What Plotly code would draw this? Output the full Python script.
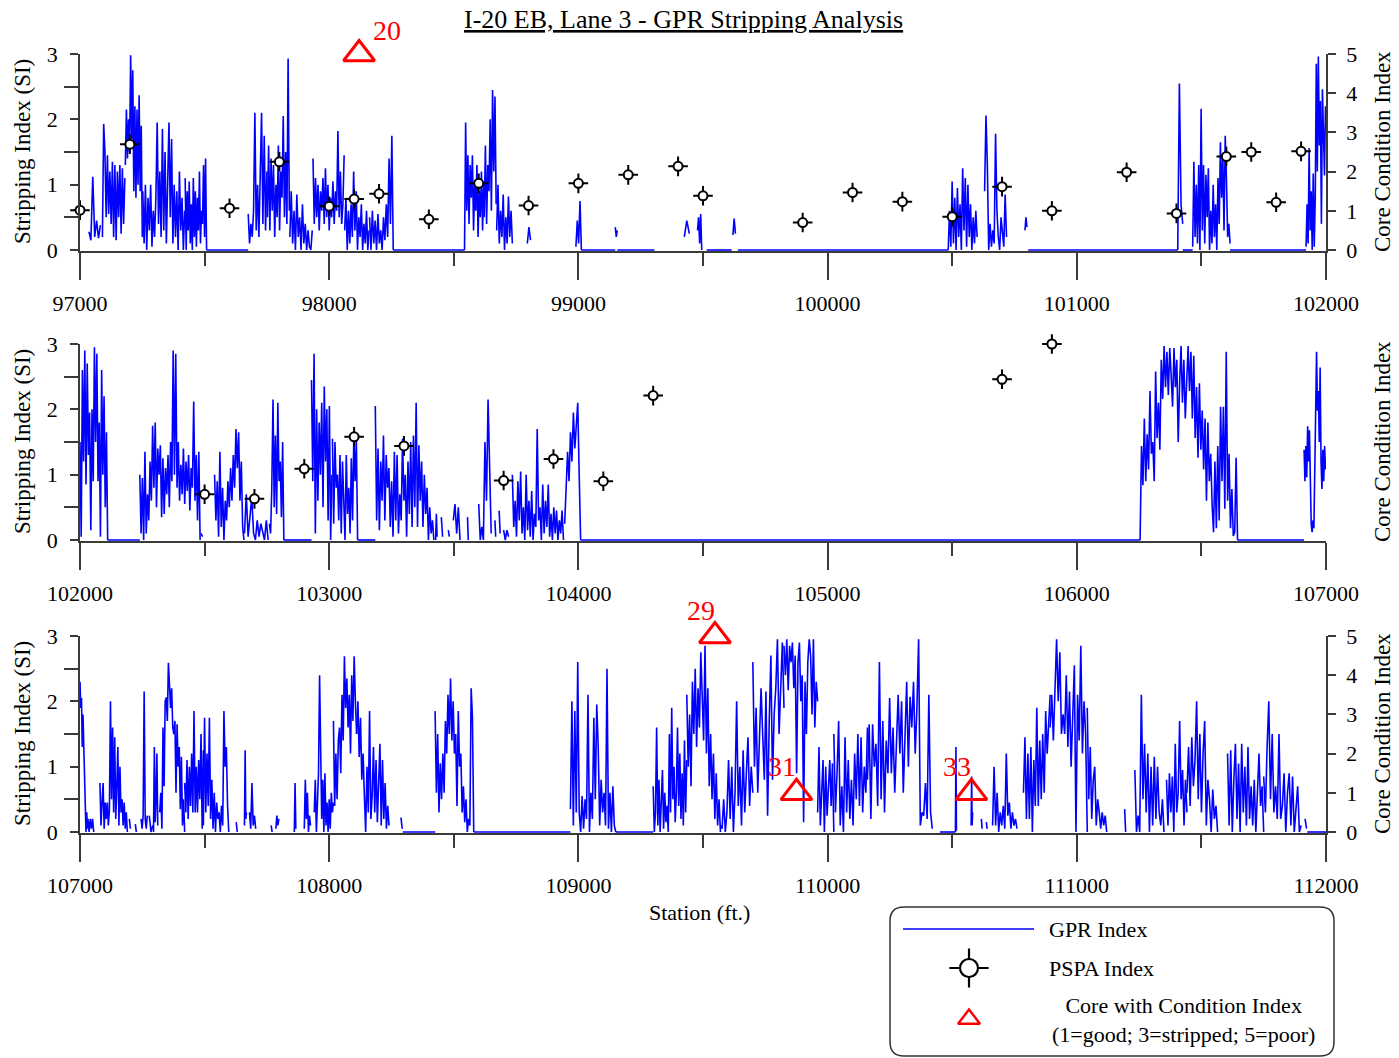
import plotly.graph_objects as go

# ---------------- data ----------------
PANEL_RANGES = [(97000, 102000), (102000, 107000), (107000, 112000)]

PSPA_P1_STATION = [97000, 97200, 97600, 97800, 98000, 98100, 98200, 98400, 98500, 98600,
                   98800, 99000, 99200, 99400, 99500, 99900, 100100, 100300, 100500, 100700,
                   100900, 101200, 101400, 101600, 101700, 101800, 101900]
PSPA_P1_VALUE = [0.61, 1.62, 0.64, 1.35, 0.67, 0.78, 0.86, 0.47, -0.17, 1.02,
                 0.68, 1.02, 1.15, 1.28, 0.83, 0.42, 0.88, 0.74, 0.51, 0.97,
                 0.60, 1.19, 0.56, 1.43, 1.50, 0.73, 1.51]
PSPA_P2_STATION = [102500, 102700, 102900, 103100, 103300, 103700, 103900, 104100, 104300,
                   105300, 105700, 105900]
PSPA_P2_VALUE = [0.70, 0.63, 1.09, 1.58, 1.44, 0.91, 1.24, 0.90, 2.21, 3.31, 2.46, 3.00]
PSPA_P3_STATION = []
PSPA_P3_VALUE = []

CORE_STATION = [98120, 109548, 109875, 110577]
CORE_INDEX = [5, 5, 1, 1]
CORE_LABEL = ["20", "29", "31", "33"]
CORE_PANEL = [0, 2, 2, 2]

# GPR stripping index: (start station, end station, readings spread evenly over the run)
GPR_P1 = [
    (97036, 97082, [0.28, 0.15, 1.12, 0.2, 0.45, 0.18, 0.38]),
    (97090, 97180, [0.2, 1.93, 1.5, 0.5, 1.45, 0.55, 1.2, 0.4, 1.35, 0.2, 1.3, 0.15, 1.2, 0.5, 1.3, 0.25, 1.25, 0.4, 1.1]),
    (97182, 97250, [1.3, 2.15, 1.4, 2.0, 1.5, 2.98, 1.7, 2.75, 0.9, 2.2, 0.8, 2.15, 1.0, 2.37, 0.9, 1.9, 0.2]),
    (97252, 97420, [0.9, 0.1, 1.0, 0.0, 0.8, 0.3, 1.0, 0.05, 0.6, 0.2, 0.8, 1.95, 0.4, 1.2, 0.2, 1.85, 0.3, 1.5, 0.1, 1.1,
                    1.95, 0.5, 1.7, 0.1, 1.0, 0.2, 0.9, 0.0, 1.2, 0.3, 0.8, 0.0, 0.6]),
    (97422, 97508, [1.1, 0.0, 0.9, 0.3, 1.05, 0.1, 0.7, 0.0, 1.1, 0.2, 0.9, 0.05, 0.8, 0.3, 1.2, 0.1, 0.6, 0.4, 1.3, 0.2, 1.4, 0.0]),
    (97508, 97675, [0.0, 0.0]),
    (97675, 97750, [0.55, 0.1, 0.4, 0.2, 0.6, 2.1, 0.3, 1.0, 0.2, 1.2, 2.1, 0.4, 1.75, 0.3, 1.2]),
    (97752, 97840, [0.5, 1.6, 0.3, 1.4, 0.6, 1.3, 0.2, 1.0, 0.5, 1.6, 0.3, 1.2, 0.8, 2.05, 0.5, 1.5, 0.4, 2.93, 0.6]),
    (97842, 97932, [0.2, 0.9, 0.1, 0.6, 0.0, 0.85, 0.2, 0.5, 0.0, 0.7, 0.1, 0.4, 0.0, 0.3, 0.05, 0.0, 0.3]),
    (97935, 98060, [1.4, 0.4, 1.1, 0.5, 1.0, 0.3, 0.9, 0.6, 1.1, 0.4, 1.25, 0.5, 1.0, 0.3, 0.8, 0.5, 1.05, 0.4, 0.9, 0.6,
                    1.82, 0.5, 1.2, 0.4, 0.7, 1.45]),
    (98062, 98160, [0.3, 0.8, 0.0, 0.6, 0.1, 0.7, 0.2, 1.2, 0.3, 0.9, 0.0, 0.5, 0.2, 0.7, 0.0, 0.4, 0.1, 0.6, 0.0, 0.3]),
    (98162, 98257, [0.5, 0.0, 0.6, 0.1, 0.45, 0.0, 0.55, 0.1, 0.3, 0.0, 0.5, 0.15, 0.7, 0.2, 1.4, 0.4, 1.75, 0.0]),
    (98257, 98543, [0.0, 0.0]),
    (98543, 98620, [0.0, 1.95, 0.6, 1.45, 0.4, 1.3, 0.8, 1.45, 0.3, 1.0, 0.6, 1.3, 0.2, 0.9, 0.5, 1.2, 0.3, 1.0]),
    (98622, 98670, [0.5, 1.6, 0.4, 1.3, 0.9, 2.0, 0.6, 2.45, 1.2, 2.35, 0.7]),
    (98672, 98735, [0.3, 1.0, 0.1, 0.6, 0.2, 0.85, 0.0, 0.5, 0.1, 0.82, 0.2, 0.6, 0.1]),
    (98795, 98808, [0.1, 0.35, 0.15]),
    (98990, 99012, [0.05, 0.45, 0.1, 0.75, 0.0]),
    (99012, 99148, [0.0, 0.0]),
    (99148, 99156, [0.35, 0.2, 0.3]),
    (99156, 99305, [0.0, 0.0]),
    (99425, 99445, [0.2, 0.45, 0.25]),
    (99478, 99495, [0.3, 0.5, 0.1, 0.55, 0.0]),
    (99515, 99615, [0.0, 0.0]),
    (99620, 99630, [0.23, 0.48, 0.25]),
    (99640, 100484, [0.0, 0.0]),
    (100484, 100600, [0.0, 0.6, 0.05, 1.05, 0.1, 0.8, 0.0, 0.95, 0.2, 0.7, 0.0, 1.25, 0.3, 1.1, 0.05, 1.0, 0.2, 0.7, 0.0, 0.5,
                      0.1, 0.6, 0.2]),
    (100630, 100718, [0.9, 2.06, 1.3, 0.0, 0.4, 0.05, 0.3, 0.1, 1.78, 0.6, 0.2, 0.0, 0.5, 0.3, 0.05, 0.85, 0.2]),
    (100792, 100800, [0.3, 0.5, 0.35]),
    (100805, 101405, [0.0, 0.0]),
    (101405, 101425, [0.0, 2.55, 0.7, 0.4]),
    (101425, 101465, [0.0, 0.0]),
    (101465, 101615, [0.05, 1.35, 0.2, 1.0, 0.1, 1.3, 0.0, 2.16, 0.3, 1.3, 0.1, 1.15, 0.5, 1.25, 0.0, 0.6, 0.1, 1.0, 0.2, 0.7,
                      0.0, 1.1, 0.4, 1.65, 0.8, 1.45, 0.3, 1.75, 1.1, 0.2, 0.4, 0.1]),
    (101615, 101920, [0.0, 0.0]),
    (101920, 101998, [0.05, 0.7, 0.1, 1.56, 0.3, 0.9, 0.0, 1.17, 0.05, 0.8, 2.85, 1.2, 2.96, 1.6, 2.28, 0.4, 2.46, 1.6, 1.14, 2.2]),
]

GPR_P2 = [
    (102000, 102111, [1.5, 0.05, 2.6, 1.2, 2.9, 0.85, 2.7, 1.3, 1.95, 0.15, 2.0, 0.9, 2.95, 1.5, 2.85, 0.9, 1.8, 0.05, 2.6, 1.0,
                      2.2, 0.5, 1.65, 0.0]),
    (102111, 102240, [0.0, 0.0]),
    (102240, 102482, [1.0, 0.1, 0.95, 0.0, 1.35, 0.1, 0.7, 0.3, 1.2, 0.6, 1.75, 0.8, 1.8, 0.5, 1.4, 1.0, 1.45, 0.35, 1.25, 0.4,
                      1.1, 0.7, 1.3, 0.5, 1.5, 0.9, 2.9, 1.0, 2.85, 0.8, 1.5, 0.6, 1.15, 0.7, 1.4, 0.55, 1.2, 0.75, 1.3, 0.45,
                      1.1, 0.8, 2.12, 0.6, 1.3, 0.3, 1.35, 0.0]),
    (102485, 102492, [0.1, 0.05]),
    (102540, 102658, [1.0, 0.3, 0.9, 0.05, 1.35, 0.2, 0.8, 0.0, 0.6, 0.3, 0.9, 0.5, 1.1, 0.6, 1.3, 0.8, 1.7, 1.1, 1.65, 0.6,
                      1.2, 0.2, 0.0]),
    (102660, 102755, [0.1, 0.7, 0.05, 0.3, 0.65, 0.1, 0.0, 0.3, 0.05, 0.25, 0.1, 0.0, 0.3, 0.0]),
    (102760, 102818, [0.25, 0.1, 0.8, 2.15, 0.5, 1.6, 0.4, 2.1, 0.9, 1.2, 0.35, 1.5, 0.0]),
    (102818, 102929, [0.0, 0.0]),
    (102929, 103011, [2.45, 0.9, 2.85, 0.1, 2.0, 0.6, 1.8, 1.0, 2.1, 0.5, 2.35, 1.2, 2.0, 0.3, 2.05, 0.0, 1.0]),
    (103013, 103114, [1.55, 0.25, 1.5, 0.8, 1.0, 0.3, 1.3, 0.1, 1.2, 0.5, 0.0, 1.3, 0.4, 0.8, 0.1, 1.25, 0.3, 1.6, 0.9, 1.55, 0.0]),
    (103114, 103185, [0.0, 0.0]),
    (103185, 103420, [2.05, 0.3, 1.4, 0.15, 1.2, 0.6, 1.6, 0.3, 1.3, 0.8, 1.1, 0.2, 0.9, 0.05, 1.35, 0.3, 1.3, 0.1, 0.7, 0.3,
                      1.55, 0.6, 1.0, 0.05, 1.2, 0.4, 1.5, 0.2, 1.6, 0.5, 2.1, 0.2, 1.45, 0.6, 1.2, 0.2, 1.0, 0.4, 0.8, 0.0,
                      0.5, 0.1, 0.3, 0.0]),
    (103427, 103433, [0.0, 0.4, 0.05]),
    (103450, 103455, [0.35, 0.05]),
    (103478, 103482, [0.15, 0.05]),
    (103498, 103525, [0.3, 0.55, 0.1, 0.5, 0.0]),
    (103555, 103558, [0.35, 0.0]),
    (103600, 103650, [0.55, 0.0, 0.2, 0.0, 1.5, 0.6, 2.15, 0.85, 0.1]),
    (103665, 103668, [0.3, 0.05]),
    (103682, 103686, [0.45, 0.1]),
    (103700, 103720, [0.15, 0.0, 0.15, 0.05]),
    (103735, 103940, [1.0, 0.2, 0.6, 0.05, 0.9, 0.3, 1.05, 0.1, 0.5, 0.0, 1.0, 0.15, 0.6, 0.05, 0.75, 0.0, 0.4, 0.2, 1.7, 0.3,
                      0.5, 0.0, 0.85, 0.1, 0.6, 0.2, 0.85, 0.05, 0.4, 0.0, 0.5, 0.1, 0.45, 0.0, 0.3, 0.1, 0.45, 0.0]),
    (103945, 104009, [0.25, 0.8, 1.35, 0.9, 1.65, 1.2, 1.95, 1.4, 1.8, 2.1, 1.0, 0.0]),
    (104009, 106254, [0.0, 0.0]),
    (106254, 106645, [0.0, 1.44, 0.84, 1.86, 0.9, 1.62, 1.08, 2.28, 1.32, 1.5, 0.9, 2.58, 1.56, 2.1, 1.38, 2.76, 2.16, 2.97,
                      2.34, 2.88, 2.22, 2.94, 2.52, 2.04, 2.94, 2.34, 2.76, 1.5, 2.4, 2.97, 2.1, 2.76, 1.86, 2.46, 2.97, 2.28,
                      2.88, 1.86, 2.82, 1.56, 2.34, 1.26, 2.4, 1.38, 1.98, 1.08, 1.86, 0.6, 1.8, 0.9, 1.32, 0.54, 0.12, 1.2,
                      0.18, 1.44, 0.3, 2.04, 0.9, 2.04, 0.48, 2.88, 0.6, 1.32, 0.18, 0.78, 0.06, 0.12, 1.26, 0.0]),
    (106645, 106912, [0.0, 0.0]),
    (106912, 106998, [1.38, 0.9, 1.44, 0.96, 1.74, 1.2, 1.68, 0.6, 0.24, 0.12, 0.3, 0.18, 1.2, 2.1, 2.88, 1.98, 2.28, 1.5,
                      2.64, 1.2, 0.78, 1.38, 0.9, 1.44, 1.08]),
]

GPR_P3 = [
    (107000, 107030, [2.3, 1.9, 2.05, 1.3, 1.8, 1.3, 1.2, 0.4, 0.0, 0.3, 0.05]),
    (107032, 107055, [0.2, 0.0, 0.2, 0.05, 0.2, 0.0]),
    (107080, 107190, [0.75, 0.1, 0.45, 0.75, 0.05, 0.45, 0.2, 0.45, 0.1, 0.35, 2.0, 0.5, 1.6, 0.3, 1.45, 0.2, 0.7, 1.3, 0.1, 1.0,
                      0.3, 0.5, 0.1, 0.45, 0.05, 0.3, 0.0]),
    (107198, 107202, [0.2, 0.05]),
    (107222, 107226, [0.12, 0.0]),
    (107245, 107270, [0.2, 0.05, 0.25, 2.15, 0.2, 0.05, 0.25]),
    (107278, 107292, [0.25, 0.0, 0.1]),
    (107295, 107312, [0.0, 1.3, 0.15, 0.5, 1.2, 0.1]),
    (107320, 107420, [0.3, 0.6, 0.05, 1.6, 0.7, 2.0, 2.06, 1.7, 2.59, 2.2, 1.9, 2.2, 1.6, 1.5, 1.7, 0.6, 1.65, 1.0, 1.3, 0.35,
                      1.15, 0.1, 0.5, 0.0]),
    (107420, 107495, [0.75, 0.3, 1.1, 0.2, 1.0, 0.4, 1.2, 0.3, 1.85, 0.3, 1.0, 0.3, 1.1, 0.5, 1.5, 0.05, 1.25]),
    (107495, 107597, [0.1, 1.75, 0.3, 1.2, 0.4, 1.75, 0.2, 0.8, 0.05, 0.6, 0.0, 0.45, 0.2, 0.3, 0.0, 0.4, 0.1, 1.85, 1.0, 1.3,
                      0.4, 0.0]),
    (107627, 107631, [0.15, 0.0]),
    (107660, 107668, [0.1, 1.25, 0.2, 0.3]),
    (107680, 107705, [0.3, 0.05, 0.75, 0.1, 0.25, 0.05]),
    (107767, 107771, [0.1, 0.0]),
    (107786, 107798, [0.05, 0.25, 0.1, 0.2]),
    (107860, 107866, [0.0, 0.75, 0.05]),
    (107900, 107925, [0.05, 0.8, 0.2, 0.6, 0.0, 0.25, 0.1]),
    (107940, 108017, [0.3, 0.8, 0.0, 0.5, 0.9, 2.4, 1.3, 0.2, 0.8, 0.0, 0.9, 0.1, 0.45, 0.0, 0.5, 0.05, 0.6, 0.3, 0.45]),
    (108017, 108110, [1.7, 0.4, 1.2, 0.5, 1.4, 1.6, 0.9, 2.1, 1.4, 2.69, 1.9, 2.35, 1.6, 2.1, 1.2, 2.4, 1.7, 2.69, 2.0, 1.5]),
    (108110, 108240, [1.5, 2.0, 1.15, 1.75, 0.8, 1.2, 0.55, 0.0, 1.0, 0.3, 1.85, 0.2, 0.55, 1.3, 0.3, 1.1, 0.15, 0.8, 1.35, 0.1,
                      1.1, 0.2, 0.75, 0.05, 0.4, 0.1]),
    (108288, 108293, [0.22, 0.05]),
    (108295, 108425, [0.0, 0.0]),
    (108425, 108580, [1.85, 0.6, 1.5, 0.3, 1.05, 0.5, 1.2, 0.6, 1.7, 1.2, 2.1, 1.5, 2.35, 1.4, 2.0, 1.2, 1.5, 0.4, 1.85, 1.0,
                      1.2, 0.3, 0.7, 0.15, 0.5, 0.0, 0.2, 0.1, 2.2, 1.75, 0.0]),
    (108580, 108968, [0.0, 0.0]),
    (108968, 109150, [0.35, 2.0, 0.1, 1.85, 0.3, 2.6, 0.3, 0.0, 0.55, 0.05, 0.5, 0.2, 2.1, 0.0, 0.6, 0.2, 1.75, 0.5, 1.95, 1.3,
                      0.1, 0.8, 0.3, 0.6, 0.1, 2.5, 0.05, 0.6, 0.0, 0.7, 0.1, 0.0]),
    (109150, 109300, [0.0, 0.0]),
    (109300, 109435, [0.7, 0.0, 0.3, 1.6, 0.1, 0.8, 0.0, 0.5, 0.95, 0.05, 0.6, 0.15, 0.4, 0.0, 1.5, 0.3, 1.9, 0.5, 1.0, 0.15,
                      0.6, 1.6, 0.4, 1.2, 0.2, 0.9, 0.1, 1.4, 0.3, 1.1]),
    (109435, 109570, [2.1, 1.0, 1.8, 0.7, 2.3, 1.5, 2.5, 1.3, 2.2, 1.6, 2.75, 2.0, 1.4, 2.85, 1.2, 2.2, 0.7, 1.5, 0.5, 1.2,
                      0.2, 0.9, 0.1, 0.5, 0.0]),
    (109570, 109700, [0.1, 0.05, 0.5, 0.0, 0.3, 1.1, 0.2, 1.0, 0.0, 0.6, 2.0, 0.4, 1.0, 0.1, 1.25, 0.3, 0.9, 1.45, 0.4, 1.0, 0.6]),
    (109700, 109825, [2.6, 1.0, 1.9, 0.6, 1.4, 2.2, 1.5, 0.8, 2.15, 0.25, 1.7, 2.7, 0.8, 1.8, 2.2, 2.95, 1.5, 2.4, 2.9, 1.9]),
    (109825, 109960, [2.85, 2.4, 2.95, 2.17, 2.85, 2.6, 2.9, 2.2, 2.7, 0.9, 2.6, 2.9, 2.0, 2.4, 0.15, 2.3, 1.5, 2.6, 2.95, 2.7,
                      1.8, 2.95, 1.6, 2.3, 2.0]),
    (109960, 110025, [0.3, 1.3, 0.1, 0.6, 1.1, 0.0, 1.0, 0.25, 0.7, 1.1, 0.4, 1.05, 0.0]),
    (110025, 110160, [1.5, 0.3, 0.9, 1.7, 0.1, 0.7, 0.0, 1.45, 0.3, 1.1, 0.2, 0.8, 0.1, 1.2, 0.5, 1.5, 0.4, 1.45, 0.3, 1.0,
                      0.6, 1.6]),
    (110160, 110420, [0.8, 1.65, 0.2, 1.65, 1.0, 1.35, 0.4, 2.6, 0.5, 1.7, 0.3, 1.4, 0.9, 2.05, 0.9, 1.6, 0.6, 1.5, 2.1, 1.2,
                      2.0, 0.6, 1.4, 2.3, 1.0, 2.07, 1.6, 2.3, 1.2, 1.9, 2.95, 0.1, 0.3, 0.25, 0.75, 0.2, 2.1, 0.3, 0.05]),
    (110451, 110513, [0.0, 0.0]),
    (110513, 110517, [0.0, 1.3, 0.02]),
    (110576, 110582, [0.1, 0.85, 0.1, 0.3]),
    (110617, 110620, [0.2, 0.05]),
    (110637, 110640, [0.15, 0.05]),
    (110662, 110760, [0.1, 1.0, 0.1, 0.6, 0.0, 0.3, 0.1, 0.4, 0.05, 1.2, 0.25, 0.45, 0.05, 0.3, 0.1, 0.2, 0.05]),
    (110786, 110893, [0.6, 1.45, 0.2, 1.2, 0.2, 1.3, 0.0, 1.1, 0.4, 1.9, 0.4, 1.4, 0.5, 1.5, 0.6, 1.85, 1.2, 1.6, 2.1]),
    (110893, 111042, [1.6, 2.1, 1.4, 2.2, 2.95, 2.0, 2.75, 1.5, 1.8, 1.5, 2.4, 1.3, 2.15, 1.0, 1.8, 2.55, 0.0, 2.1, 1.4, 2.85,
                      1.2, 2.0, 1.5, 0.0]),
    (111042, 111120, [1.9, 0.5, 1.3, 0.2, 0.8, 1.0, 0.1, 0.5, 0.3, 0.05, 0.3, 0.1, 0.25, 0.0]),
    (111192, 111196, [0.35, 0.0]),
    (111233, 111350, [0.95, 0.0, 0.25, 0.0, 2.1, 0.5, 1.35, 0.3, 1.2, 0.0, 1.0, 0.1, 1.15, 0.2, 1.0, 0.3, 0.1, 0.5, 0.0]),
    (111360, 111442, [0.8, 0.1, 0.9, 0.3, 0.85, 0.0, 1.35, 0.3, 0.6, 1.7, 0.5, 0.95, 0.1, 0.8, 0.3]),
    (111442, 111565, [0.6, 1.3, 0.4, 1.45, 0.7, 1.1, 2.0, 0.5, 1.5, 0.3, 1.2, 1.7, 0.1, 0.8, 0.5, 0.0, 0.65, 0.2, 0.4, 0.0]),
    (111605, 111750, [1.2, 0.1, 1.25, 0.0, 0.8, 1.35, 0.2, 1.05, 0.0, 1.35, 0.3, 1.0, 0.1, 1.3, 0.2, 0.7, 0.1, 0.8, 0.0, 0.5,
                      1.2, 0.4, 0.7, 0.0]),
    (111750, 111900, [0.85, 0.3, 1.3, 2.0, 0.5, 1.5, 0.3, 0.7, 0.2, 1.5, 0.2, 0.4, 0.9, 0.0, 0.6, 0.9, 0.1, 0.85, 0.0, 0.4,
                      0.7, 0.0, 0.1]),
    (111916, 111922, [0.2, 0.05]),
    (111925, 112000, [0.0, 0.0]),
]

GPR_PANELS = [GPR_P1, GPR_P2, GPR_P3]
PSPA_PANELS = [(PSPA_P1_STATION, PSPA_P1_VALUE), (PSPA_P2_STATION, PSPA_P2_VALUE), (PSPA_P3_STATION, PSPA_P3_VALUE)]

# ---------------- layout constants ----------------
W, H = 1399, 1058
ML, MR = 80, 73
PW = W - ML - MR
FONT = "Liberation Serif, Times New Roman, serif"
AX = "#3a3a3a"
TOPS = [54, 344, 636]
BOTS = [250, 540, 832]
LO = 0.015


def fy(p):
    return 1 - p / H


def fx(p):
    return (p - ML) / PW


def expand(segments):
    xs, ys = [], []
    for start, end, vals in segments:
        n = len(vals)
        for i, v in enumerate(vals):
            xs.append(start + (end - start) * i / (n - 1))
            ys.append(v)
        xs.append(None)
        ys.append(None)
    return xs, ys


fig = go.Figure()
layout = dict(
    width=W, height=H,
    margin=dict(l=ML, r=MR, t=0, b=0, autoexpand=False),
    paper_bgcolor="white", plot_bgcolor="rgba(0,0,0,0)",
    showlegend=False, hovermode=False,
    font=dict(family=FONT, size=22, color="black"),
)
annotations = []
shapes = []

for k in range(3):
    xa = "xaxis" if k == 0 else f"xaxis{k + 1}"
    xref = "x" if k == 0 else f"x{k + 1}"
    yl_id, yr_id = 2 * k + 1, 2 * k + 2
    yl = "yaxis" if yl_id == 1 else f"yaxis{yl_id}"
    ylref = "y" if yl_id == 1 else f"y{yl_id}"
    yr = f"yaxis{yr_id}"
    yrref = f"y{yr_id}"
    scale = (BOTS[k] - TOPS[k]) / 3.0
    dom = [fy(BOTS[k] + LO * scale), fy(TOPS[k])]

    layout[xa] = dict(
        domain=[0, 1], range=list(PANEL_RANGES[k]), anchor=ylref,
        showline=True, linecolor=AX, linewidth=1.5, mirror=False,
        ticks="outside", ticklen=27, tickwidth=1.5, tickcolor=AX,
        tick0=0, dtick=1000, tickformat="d",
        minor=dict(ticks="outside", ticklen=13, tickwidth=1.5, tickcolor=AX, tick0=0, dtick=500, showgrid=False),
        showgrid=False, zeroline=False, tickfont=dict(size=22, family=FONT, color="black"),
        ticklabelstandoff=5,
    )
    layout[yl] = dict(
        domain=dom, range=[-LO, 3], anchor=xref, side="left",
        showline=True, linecolor=AX, linewidth=1.5,
        ticks="outside", ticklen=8, tickwidth=1.5, tickcolor=AX, tick0=0, dtick=1,
        minor=dict(ticks="outside", ticklen=14, tickwidth=1.5, tickcolor=AX, tick0=0, dtick=0.5, showgrid=False),
        showgrid=False, zeroline=False, tickfont=dict(size=22, family=FONT, color="black"),
        ticklabelstandoff=8,
    )
    layout[yr] = dict(
        range=[-LO * 5 / 3, 5], anchor=xref, overlaying=ylref, side="right",
        showline=True, linecolor=AX, linewidth=1.5,
        ticks="outside", ticklen=8, tickwidth=1.5, tickcolor=AX, tick0=0, dtick=1,
        showgrid=False, zeroline=False, tickfont=dict(size=22, family=FONT, color="black"),
        ticklabelstandoff=6,
    )

    gx, gy = expand(GPR_PANELS[k])
    fig.add_trace(go.Scatter(x=gx, y=gy, mode="lines", line=dict(color="#0000FF", width=1.6),
                             connectgaps=False, xaxis=xref, yaxis=ylref, hoverinfo="skip"))

    st, val = PSPA_PANELS[k]
    if st:
        fig.add_trace(go.Scatter(x=st, y=val, mode="markers", cliponaxis=False, xaxis=xref, yaxis=ylref,
                                 marker=dict(symbol="cross-thin-open", size=14, color="black",
                                             line=dict(color="black", width=2))))
        fig.add_trace(go.Scatter(x=st, y=val, mode="markers", cliponaxis=False, xaxis=xref, yaxis=ylref,
                                 marker=dict(symbol="circle", size=9, color="white",
                                             line=dict(color="black", width=2))))

    cs = [s for s, p in zip(CORE_STATION, CORE_PANEL) if p == k]
    ci = [v for v, p in zip(CORE_INDEX, CORE_PANEL) if p == k]
    cl = [l for l, p in zip(CORE_LABEL, CORE_PANEL) if p == k]
    if cs:
        fig.add_trace(go.Scatter(x=cs, y=ci, mode="markers", cliponaxis=False, xaxis=xref, yaxis=yrref,
                                 marker=dict(symbol="triangle-up-open", size=27, color="red",
                                             line=dict(color="red", width=3))))
        for s, v, l in zip(cs, ci, cl):
            right = (l == "20")
            annotations.append(dict(x=s, y=v, xref=xref, yref=yrref, text=l, showarrow=False,
                                    xshift=28 if right else -14, yshift=24 if right else 26,
                                    font=dict(size=28, color="red", family=FONT)))

    mid = fy((TOPS[k] + BOTS[k]) / 2)
    annotations.append(dict(x=fx(22), y=mid, xref="paper", yref="paper", text="Stripping Index (SI)",
                            textangle=-90, showarrow=False, xanchor="center", yanchor="middle",
                            font=dict(size=23, family=FONT, color="black")))
    annotations.append(dict(x=fx(1382), y=mid, xref="paper", yref="paper", text="Core Condition Index",
                            textangle=-90, showarrow=False, xanchor="center", yanchor="middle",
                            font=dict(size=23, family=FONT, color="black")))

# title and x title
annotations.append(dict(x=fx(683.5), y=fy(20), xref="paper", yref="paper",
                        text="<u>I-20 EB, Lane 3 - GPR Stripping Analysis</u>", showarrow=False,
                        xanchor="center", yanchor="middle", font=dict(size=26, family=FONT, color="black")))
annotations.append(dict(x=fx(699), y=fy(912), xref="paper", yref="paper", text="Station (ft.)",
                        showarrow=False, xanchor="center", yanchor="middle",
                        font=dict(size=22, family=FONT, color="black")))

# ---------------- legend box ----------------
layout["xaxis4"] = dict(domain=[0, 1], range=[ML, ML + PW], visible=False, anchor="y7", fixedrange=True)
layout["yaxis7"] = dict(domain=[0, 1], range=[H, 0], visible=False, anchor="x4", fixedrange=True)

x0, x1, y0, y1, r = 890, 1334, 907, 1056, 14


def P(x, y):
    return f"{fx(x):.5f},{fy(y):.5f}"


path = (f"M{P(x0 + r, y0)} L{P(x1 - r, y0)} Q{P(x1, y0)} {P(x1, y0 + r)} L{P(x1, y1 - r)} "
        f"Q{P(x1, y1)} {P(x1 - r, y1)} L{P(x0 + r, y1)} Q{P(x0, y1)} {P(x0, y1 - r)} "
        f"L{P(x0, y0 + r)} Q{P(x0, y0)} {P(x0 + r, y0)} Z")
shapes.append(dict(type="path", path=path, xref="paper", yref="paper", line=dict(color="#333333", width=1.5),
                   fillcolor="white", layer="below"))
shapes.append(dict(type="line", x0=fx(903), x1=fx(1034), y0=fy(929), y1=fy(929), xref="paper", yref="paper",
                   line=dict(color="#0000FF", width=1.3)))

fig.add_trace(go.Scatter(x=[969], y=[968], mode="markers", cliponaxis=False, xaxis="x4", yaxis="y7",
                         marker=dict(symbol="cross-thin-open", size=28, color="black", line=dict(color="black", width=2.2))))
fig.add_trace(go.Scatter(x=[969], y=[968], mode="markers", cliponaxis=False, xaxis="x4", yaxis="y7",
                         marker=dict(symbol="circle", size=18, color="white", line=dict(color="black", width=2.2))))
fig.add_trace(go.Scatter(x=[969], y=[1019], mode="markers", cliponaxis=False, xaxis="x4", yaxis="y7",
                         marker=dict(symbol="triangle-up-open", size=19, color="red", line=dict(color="red", width=2.4))))

legend_font = dict(size=22, family=FONT, color="black")
annotations.append(dict(x=1047, y=929, xref="x4", yref="y7", text="GPR Index", showarrow=False,
                        xanchor="left", yanchor="middle", font=legend_font))
annotations.append(dict(x=1047, y=968, xref="x4", yref="y7", text="PSPA Index", showarrow=False,
                        xanchor="left", yanchor="middle", font=legend_font))
annotations.append(dict(x=1183, y=1020, xref="x4", yref="y7",
                        text="Core with Condition Index<br>(1=good; 3=stripped; 5=poor)", showarrow=False,
                        xanchor="center", yanchor="middle", align="center", font=legend_font))

layout["annotations"] = annotations
layout["shapes"] = shapes
fig.update_layout(**layout)

fig.write_html("out.html")
